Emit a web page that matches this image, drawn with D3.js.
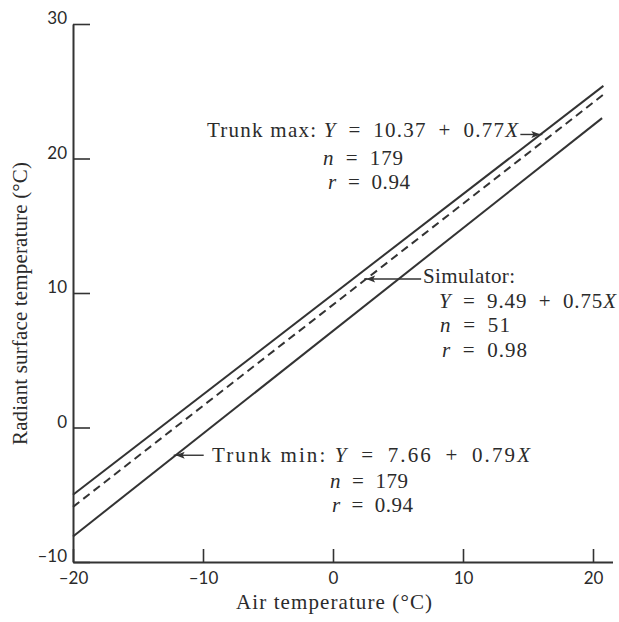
<!DOCTYPE html>
<html><head><meta charset="utf-8">
<script src="https://cdn.jsdelivr.net/npm/d3@7"></script>
<style>
body{margin:0;background:#fff;}
svg{display:block;}
.ann{font-family:"Liberation Serif","Times New Roman",serif;font-size:21px;fill:#2b2b2b;white-space:pre;}
</style></head>
<body><svg id="c" width="619" height="622"></svg>
<script>
// ---- data ----
const xTicks = [-20, -10, 0, 10, 20];
const yTicks = [-10, 0, 10, 20, 30];
const seriesNames = ["Trunk max", "Simulator", "Trunk min"];
const seriesDashed = [false, true, false];
const trunkMaxX = [-20, 20.8];
const trunkMaxY = [-5.0, 25.4];
const simulatorX = [-20, 21.0];
const simulatorY = [-5.9, 24.9];
const trunkMinX = [-20, 20.7];
const trunkMinY = [-8.1, 23.0];
const xTitle = "Air temperature (°C)";
const yTitle = "Radiant surface temperature (°C)";

const series = [
  {name: seriesNames[0], dashed: seriesDashed[0], xs: trunkMaxX, ys: trunkMaxY},
  {name: seriesNames[1], dashed: seriesDashed[1], xs: simulatorX, ys: simulatorY},
  {name: seriesNames[2], dashed: seriesDashed[2], xs: trunkMinX, ys: trunkMinY}
];

const svg = d3.select("#c");
const x = d3.scaleLinear().domain([-20, 21.5]).range([73, 612.5]);
const y = d3.scaleLinear().domain([-10, 30]).range([562, 24]);
const ink = "#333";

// axes
const fmt = d => (d < 0 ? "\u2013" : "") + Math.abs(d);
const gx = svg.append("g").attr("transform", `translate(0,${y(-10)})`)
  .call(d3.axisBottom(x).tickValues(xTicks).tickFormat(fmt).tickSizeInner(-13).tickSizeOuter(0).tickPadding(10));
const gy = svg.append("g").attr("transform", `translate(${x(-20)},0)`)
  .call(d3.axisLeft(y).tickValues(yTicks).tickFormat(fmt).tickSizeInner(-17).tickSizeOuter(0).tickPadding(6));
[gx, gy].forEach(g => {
  g.select(".domain").attr("stroke", ink).attr("stroke-width", 2);
  g.selectAll(".tick line").attr("stroke", ink).attr("stroke-width", 1.6);
  g.selectAll(".tick text").style("font-family", "Lato, 'Open Sans', sans-serif")
    .style("font-size", "17px").attr("fill", "#2a2a2a");
});
gy.selectAll(".tick text").attr("dy", "-0.02em");

// lines
const line = d3.line().x(d => x(d[0])).y(d => y(d[1]));
svg.append("g").selectAll("path").data(series).join("path")
  .attr("d", s => line(d3.zip(s.xs, s.ys)))
  .attr("fill", "none").attr("stroke", ink).attr("stroke-width", 2)
  .attr("stroke-dasharray", s => s.dashed ? "8,5" : null);

function valueAt(s, xv) {
  const t = (xv - s.xs[0]) / (s.xs[1] - s.xs[0]);
  return s.ys[0] + t * (s.ys[1] - s.ys[0]);
}

// arrows
function arrow(s, xv, len) {
  const tx = x(xv), ty = y(valueAt(s, xv));
  const dir = Math.sign(len);
  svg.append("line").attr("x1", tx + len).attr("y1", ty).attr("x2", tx - dir*2).attr("y2", ty)
    .attr("stroke", ink).attr("stroke-width", 1.4);
  svg.append("path")
    .attr("d", `M${tx},${ty} L${tx + dir*9},${ty - 3.5} L${tx + dir*7},${ty} L${tx + dir*9},${ty + 3.5} Z`)
    .attr("fill", ink);
}
arrow(series[0], 15.95, -20);
arrow(series[1], 2.55, 55);
arrow(series[2], -12.1, 28);

// annotation text
const EN = "\u2002";
function ann(parts, px, py, w) {
  const t = svg.append("text").attr("class", "ann").attr("x", px).attr("y", py)
    .attr("textLength", w).attr("lengthAdjust", "spacing");
  parts.forEach(p => t.append("tspan").text(p[0]).attr("font-style", p[1] ? "italic" : null));
  return t;
}
function eq(label, a, b) { return [[label, false], ["Y", true], [EN + "=" + EN + a + EN + "+" + EN + b, false], ["X", true]]; }

ann(eq("Trunk max: ", "10.37", "0.77"), 207, 137, 311);
ann([["n", true], [EN + "=" + EN + "179", false]], 323, 165, 80);
ann([["r", true], [EN + "=" + EN + "0.94", false]], 328, 189, 82);

ann([["Simulator:", false]], 423, 283, 92);
ann(eq("", "9.49", "0.75"), 439, 308, 177);
ann([["n", true], [EN + "=" + EN + "51", false]], 440, 332, 70);
ann([["r", true], [EN + "=" + EN + "0.98", false]], 442, 357, 85);

ann(eq("Trunk min: ", "7.66", "0.79"), 212, 462, 318);
ann([["n", true], [EN + "=" + EN + "179", false]], 330, 488, 78);
ann([["r", true], [EN + "=" + EN + "0.94", false]], 332, 512, 81);

// axis titles
svg.append("text").attr("class", "ann").attr("x", 236).attr("y", 609)
  .attr("textLength", 196).attr("lengthAdjust", "spacing").text(xTitle);
svg.append("text").attr("class", "ann")
  .attr("transform", `translate(27,445) rotate(-90)`)
  .attr("textLength", 283).attr("lengthAdjust", "spacing").text(yTitle);
</script></body></html>
